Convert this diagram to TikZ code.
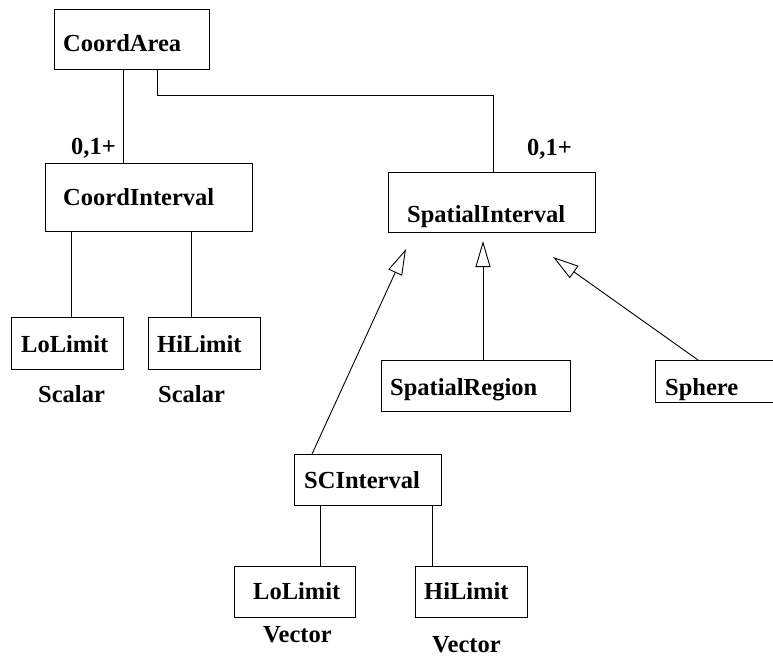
\documentclass[tikz,border=0pt]{standalone}
\usepackage{fontspec}
\setmainfont{Liberation Serif}
\usetikzlibrary{arrows.meta}

\tikzset{
  box/.style={draw, line width=0.9pt, inner sep=0pt, fill=white},
  lbl/.style={anchor=base west, inner sep=0pt, font=\bfseries\fontsize{24.5}{28}\selectfont},
  conn/.style={line width=0.9pt},
  gen/.style={line width=0.9pt, -{Triangle[open, length=26pt, width=15pt, line width=0.9pt]}}
}

\begin{document}
\begin{tikzpicture}[x=1pt, y=-1pt]
\clip (0,0) rectangle (773,661);
\fill[white] (0,0) rectangle (773,661);

% class boxes
\node[box, minimum width=155, minimum height=60] (ca)  at (131.5,39)  {};
\node[box, minimum width=207, minimum height=68] (ci)  at (148.5,197) {};
\node[box, minimum width=112, minimum height=52] (lo1) at (67,343)    {};
\node[box, minimum width=112, minimum height=52] (hi1) at (204,343)   {};
\node[box, minimum width=207, minimum height=60] (si)  at (491.5,202) {};
\node[box, minimum width=189, minimum height=51] (sr)  at (475.5,385.5) {};
\node[box, minimum width=145, minimum height=42] (sp)  at (727.5,381) {};
\node[box, minimum width=147, minimum height=51] (sc)  at (367.5,479.5) {};
\node[box, minimum width=121, minimum height=51] (lo2) at (294.5,591.5) {};
\node[box, minimum width=112, minimum height=51] (hi2) at (471,591.5) {};

% class names
\node[lbl] (ca-t)  at (63,52)   {CoordArea};
\node[lbl] (ci-t)  at (63,205)  {CoordInterval};
\node[lbl] (lo1-t) at (21,352)  {LoLimit};
\node[lbl] (hi1-t) at (157,352) {HiLimit};
\node[lbl] (si-t)  at (407,222) {SpatialInterval};
\node[lbl] (sr-t)  at (390,395) {SpatialRegion};
\node[lbl] (sp-t)  at (665,395) {Sphere};
\node[lbl] (sc-t)  at (304,488) {SCInterval};
\node[lbl] (lo2-t) at (253,599) {LoLimit};
\node[lbl] (hi2-t) at (424,599) {HiLimit};

% type and multiplicity annotations
\node[lbl] (m1) at (71,154)  {0,1+};
\node[lbl] (m2) at (527,155) {0,1+};
\node[lbl] (ty1) at (38,402)  {Scalar};
\node[lbl] (ty2) at (158,402) {Scalar};
\node[lbl] (ty3) at (263,642) {Vector};
\node[lbl] (ty4) at (432,652) {Vector};

% helper columns for the connectors
\coordinate (xa) at (123,0);
\coordinate (xb) at (157,0);
\coordinate (xc) at (493,0);
\coordinate (xd) at (71,0);
\coordinate (xe) at (191,0);
\coordinate (xf) at (320,0);
\coordinate (xg) at (432,0);
\coordinate (xh) at (483,0);

% aggregation lines
\draw[conn] (ca.south -| xa) -- (ci.north -| xa);
\draw[conn] (ca.south -| xb) -- ++(0,26) -| (si.north -| xc);
\draw[conn] (ci.south -| xd) -- (lo1.north -| xd);
\draw[conn] (ci.south -| xe) -- (hi1.north -| xe);
\draw[conn] (sc.south -| xf) -- (lo2.north -| xf);
\draw[conn] (sc.south -| xg) -- (hi2.north -| xg);

% generalisation arrows
\coordinate (t1) at (406,249);
\coordinate (t2) at (483,241);
\coordinate (t3) at (553,257);
\coordinate (s1) at (312,454);
\coordinate (s3) at (698,360);
\draw[gen] (s1) -- (t1);
\draw[gen] (sr.north -| xh) -- (t2);
\draw[gen] (s3) -- (t3);
\end{tikzpicture}
\end{document}
